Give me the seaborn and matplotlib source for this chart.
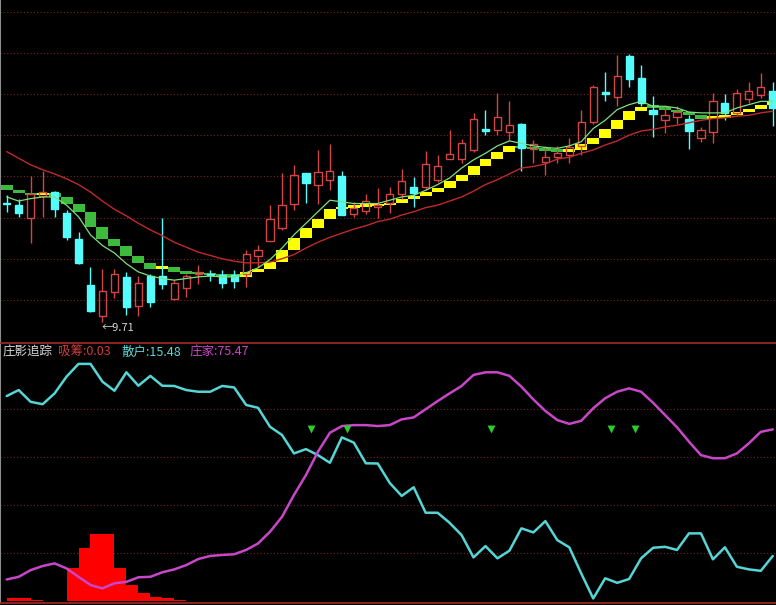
import numpy as np
import matplotlib
matplotlib.use('Agg')
import matplotlib.pyplot as plt
import seaborn as sns

# ---- price panel data (daily bars) ----
opens = [11.16, 11.13, 10.98, 11.24, 11.29, 11.03, 10.72, 10.16, 9.79, 10.08,
         10.26, 9.91, 10.27, 10.27, 9.99, 10.13, 10.29, 10.29, 10.28, 10.28,
         10.30, 10.51, 10.70, 10.85, 11.15, 11.52, 11.38, 11.43, 11.48, 11.02,
         11.06, 11.11, 11.16, 11.26, 11.35, 11.35, 11.44, 11.69, 11.69, 11.80,
         12.05, 12.04, 12.02, 12.11, 11.81, 11.66, 11.72, 11.74, 11.85, 12.14,
         12.50, 12.44, 12.94, 12.67, 12.29, 12.16, 12.20, 12.18, 11.94, 12.02,
         12.37, 12.25, 12.42, 12.47, 12.51]
highs = [11.25, 11.20, 11.48, 11.54, 11.30, 11.07, 10.81, 10.38, 10.36, 10.36,
         10.32, 10.27, 10.30, 10.97, 10.22, 10.30, 10.40, 10.34, 10.34, 10.34,
         10.58, 10.65, 11.13, 11.52, 11.62, 11.52, 11.80, 11.87, 11.54, 11.17,
         11.27, 11.34, 11.35, 11.57, 11.47, 11.79, 11.74, 12.04, 11.93, 12.25,
         12.29, 12.49, 12.39, 12.13, 11.92, 11.85, 11.85, 11.95, 12.28, 12.59,
         12.75, 12.95, 12.97, 12.83, 12.46, 12.33, 12.33, 12.22, 12.08, 12.49,
         12.48, 12.54, 12.63, 12.73, 12.63]
lows = [11.05, 10.99, 10.67, 10.99, 10.99, 10.71, 10.42, 9.83, 9.71, 10.00,
        9.80, 9.79, 9.89, 10.11, 9.98, 10.02, 10.17, 10.21, 10.13, 10.13,
        10.14, 10.38, 10.69, 10.83, 11.07, 11.16, 11.15, 11.31, 11.01, 10.99,
        11.02, 10.97, 11.03, 11.21, 11.11, 11.33, 11.41, 11.69, 11.64, 11.78,
        11.98, 11.98, 11.92, 11.55, 11.64, 11.50, 11.64, 11.64, 11.74, 12.12,
        12.39, 12.33, 12.56, 12.33, 11.96, 12.01, 12.12, 11.81, 11.90, 11.89,
        12.16, 12.22, 12.37, 12.43, 12.09]
closes = [11.15, 11.04, 11.27, 11.29, 11.08, 10.74, 10.43, 9.84, 10.09, 10.30,
          9.90, 10.19, 9.96, 10.17, 10.19, 10.27, 10.32, 10.28, 10.19, 10.21,
          10.54, 10.59, 10.96, 11.13, 11.50, 11.40, 11.53, 11.55, 11.01, 11.09,
          11.18, 11.13, 11.27, 11.42, 11.28, 11.63, 11.61, 11.75, 11.89, 12.18,
          12.03, 12.20, 12.10, 11.82, 11.87, 11.71, 11.76, 11.84, 12.14, 12.56,
          12.48, 12.70, 12.66, 12.37, 12.24, 12.22, 12.26, 12.03, 12.04, 12.39,
          12.25, 12.49, 12.52, 12.57, 12.31]

ma_long = [11.78, 11.70, 11.62, 11.56, 11.51, 11.45, 11.38, 11.29, 11.18, 11.08,
           11.00, 10.91, 10.83, 10.76, 10.68, 10.62, 10.56, 10.52, 10.48, 10.45,
           10.43, 10.43, 10.44, 10.48, 10.53, 10.61, 10.68, 10.74, 10.79, 10.84,
           10.88, 10.93, 10.96, 11.01, 11.05, 11.10, 11.13, 11.18, 11.23, 11.30,
           11.38, 11.44, 11.51, 11.58, 11.60, 11.63, 11.69, 11.71, 11.76, 11.80,
           11.86, 11.91, 11.98, 12.03, 12.05, 12.08, 12.10, 12.13, 12.16, 12.18,
           12.19, 12.21, 12.22, 12.25, 12.27]
ma_short = [11.23, 11.18, 11.21, 11.23, 11.23, 11.13, 10.99, 10.77, 10.64, 10.55,
            10.42, 10.32, 10.27, 10.24, 10.22, 10.24, 10.26, 10.27, 10.26, 10.26,
            10.31, 10.37, 10.47, 10.61, 10.77, 10.91, 11.05, 11.19, 11.17, 11.15,
            11.15, 11.15, 11.19, 11.23, 11.25, 11.31, 11.38, 11.46, 11.58, 11.68,
            11.76, 11.85, 11.91, 11.88, 11.85, 11.83, 11.82, 11.85, 11.90, 12.06,
            12.16, 12.29, 12.35, 12.39, 12.33, 12.33, 12.31, 12.26, 12.25, 12.25,
            12.25, 12.31, 12.35, 12.39, 12.39]
# step ribbon: one value before the first bar, then one per bar
ribbon = [11.38, 11.32, 11.28, 11.25, 11.28, 11.23, 11.15, 11.05, 10.87, 10.72,
          10.64, 10.51, 10.43, 10.36, 10.38, 10.32, 10.30, 10.29, 10.28, 10.27,
          10.26, 10.32, 10.36, 10.44, 10.59, 10.73, 10.85, 10.96, 11.08, 11.10,
          11.11, 11.12, 11.13, 11.16, 11.20, 11.24, 11.29, 11.34, 11.42, 11.50,
          11.60, 11.69, 11.78, 11.85, 11.82, 11.81, 11.79, 11.78, 11.80, 11.87,
          11.95, 12.05, 12.16, 12.27, 12.32, 12.31, 12.29, 12.26, 12.22, 12.18,
          12.19, 12.22, 12.26, 12.30, 12.35, 12.39]
low_mark = 9.71

# ---- indicator panel data ----
retail = [85.4, 87.9, 83.0, 82.0, 86.5, 93.5, 98.8, 98.8, 91.4, 87.6,
          95.3, 89.7, 93.8, 89.7, 89.6, 87.9, 87.2, 87.2, 89.6, 89.0,
          81.7, 80.5, 72.6, 69.2, 61.5, 63.3, 60.8, 57.6, 68.2, 66.0,
          57.4, 57.3, 49.2, 43.8, 47.4, 36.8, 36.8, 32.6, 27.5, 18.2,
          22.9, 17.8, 21.0, 30.3, 28.6, 33.3, 25.4, 22.4, 11.5, 1.1,
          9.5, 7.6, 9.2, 17.8, 22.2, 22.6, 21.3, 28.2, 28.2, 17.4,
          22.4, 14.3, 13.2, 12.6, 18.8]
banker = [9.0, 10.1, 12.9, 14.6, 15.7, 13.6, 10.1, 6.7, 5.3, 7.4,
          8.0, 9.9, 10.1, 12.0, 13.2, 15.0, 17.5, 18.8, 19.2, 19.5,
          21.3, 24.0, 28.9, 35.1, 44.2, 52.5, 62.2, 70.1, 72.9, 73.3,
          73.3, 72.9, 73.3, 75.7, 76.5, 79.9, 83.3, 86.5, 89.6, 94.2,
          95.3, 95.3, 93.8, 89.3, 84.0, 79.2, 75.4, 73.8, 75.1, 80.3,
          84.5, 87.2, 88.6, 87.2, 82.6, 77.5, 72.4, 66.4, 60.8, 59.5,
          59.5, 61.5, 65.7, 70.5, 71.5]
absorb = [1.2, 1.2, 0.6, 0.0, 0.0, 13.6, 22.0, 27.9, 27.9, 13.6,
          6.7, 3.2, 1.8, 1.1, 0.4, 0.0, 0.0, 0.0, 0.0, 0.0,
          0.0, 0.0, 0.0, 0.0, 0.0, 0.0, 0.0, 0.0, 0.0, 0.0,
          0.0, 0.0, 0.0, 0.0, 0.0, 0.0, 0.0, 0.0, 0.0, 0.0,
          0.0, 0.0, 0.0, 0.0, 0.0, 0.0, 0.0, 0.0, 0.0, 0.0,
          0.0, 0.0, 0.0, 0.0, 0.0, 0.0, 0.0, 0.0, 0.0, 0.0,
          0.0, 0.0, 0.0, 0.0, 0.03]
signal_idx = [25, 28, 40, 50, 52]
signal_level = [71.5, 71.5, 71.5, 71.5, 71.5]
header_retail = 15.48
header_banker = 75.47

RED = '#d24646'
CYAN = '#54fcfc'
GRID = '#7a2424'


def main():
    sns.set_theme(style='dark', rc={'axes.facecolor': 'black',
                                    'figure.facecolor': 'black'})
    plt.rcParams['font.family'] = ['Noto Sans CJK SC', 'DejaVu Sans']

    W, H = 776, 605
    fig = plt.figure(figsize=(W / 100, H / 100), dpi=100)
    # price panel: pixel rows 0-343, indicator panel: rows 343-603
    ax = fig.add_axes([0, 1 - 343 / H, 1, 343 / H])
    ax2 = fig.add_axes([0, 2 / H, 1, 260 / H])

    x = np.arange(len(opens))
    o, h, l, c = (np.array(v) for v in (opens, highs, lows, closes))
    up = c >= o

    # grid
    for gy in np.arange(9.98, 13.6, 0.5):
        ax.axhline(gy, color=GRID, lw=0.8, ls=(0, (1, 2)), zorder=0)

    # step ribbon: yellow when rising, green when falling
    rb = np.array(ribbon)
    prev, cur = rb[:-1], rb[1:]
    cols = np.where(cur >= prev, '#ffff00', '#3dbb3d')
    ax.bar(x, np.maximum(np.abs(cur - prev), 0.03), bottom=np.minimum(cur, prev),
           width=1.0, color=cols, lw=0, zorder=1)

    # candles
    top = np.maximum(o, c)
    bot = np.minimum(o, c)
    colors = np.where(up, RED, CYAN)
    ax.vlines(x, top, h, colors=colors, lw=1, zorder=2)
    ax.vlines(x, l, bot, colors=colors, lw=1, zorder=2)
    ax.bar(x[up], (c - o)[up], bottom=o[up], width=0.6, facecolor='none',
           edgecolor=RED, lw=1, zorder=2)
    ax.bar(x[~up], (o - c)[~up], bottom=c[~up], width=0.6, color=CYAN,
           edgecolor=CYAN, lw=1, zorder=2)

    sns.lineplot(x=x, y=ma_long, ax=ax, color='#c02a2a', lw=1, zorder=3)
    sns.lineplot(x=x, y=ma_short, ax=ax, color='#7ee07e', lw=0.9, zorder=3)

    lo_i = int(np.argmin(l))
    ax.text(lo_i - 0.1, low_mark - 0.07, '\u2190' + f'{low_mark:.2f}',
            color='#d8d8d8', fontsize=8, ha='left', va='center')

    ax.set_xlim(-0.56, 64.27)
    ax.set_ylim(13.62 - 343 / 82.4, 13.62)

    # ---- indicator panel ----
    for gy in (20, 40, 60, 80):
        ax2.axhline(gy, color=GRID, lw=0.8, ls=(0, (1, 2)), zorder=0)
    ax2.bar(x, absorb, width=1.0, align='edge', color='#ff0000', lw=0, zorder=1)
    sns.lineplot(x=x, y=retail, ax=ax2, color='#55d5d5', lw=1.8, zorder=2)
    sns.lineplot(x=x, y=banker, ax=ax2, color='#c846c8', lw=1.8, zorder=2)
    ax2.scatter(np.array(signal_idx) + 0.45, signal_level, marker='v', s=32,
                color='#2ecc2e', lw=0, zorder=3)
    ax2.set_xlim(-0.56, 64.27)
    ax2.set_ylim(-0.8, 107.5)

    for a in (ax, ax2):
        a.set_xticks([])
        a.set_yticks([])
        a.set_xlabel('')
        a.set_ylabel('')
        for s in a.spines.values():
            s.set_visible(False)
        a.spines['left'].set_visible(True)
        a.spines['left'].set_color('#8c8c8c')
        a.spines['left'].set_linewidth(1.5)
    for s in ('top', 'bottom'):
        ax2.spines[s].set_visible(True)
        ax2.spines[s].set_color('#a02a2a')
        ax2.spines[s].set_linewidth(1.2)

    # indicator header
    ty = 1 - 352 / H
    fs = 9
    fig.text(2 / W, ty, '庄影追踪', color='#d8d8d8', fontsize=fs, va='center')
    fig.text(58 / W, ty, f'吸筹:{absorb[-1]:.2f}', color='#d23c3c', fontsize=fs, va='center')
    fig.text(122 / W, ty, f'散户:{header_retail:.2f}', color='#5ad6d6', fontsize=fs, va='center')
    fig.text(189 / W, ty, f'庄家:{header_banker:.2f}', color='#c846c8', fontsize=fs, va='center')

    fig.savefig('out.png', dpi=100, facecolor='black')


if __name__ == '__main__':
    main()
